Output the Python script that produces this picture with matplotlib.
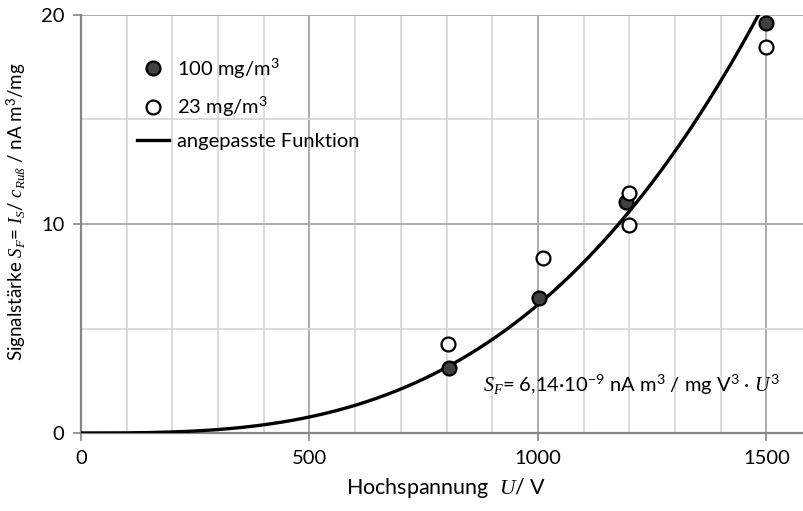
import numpy as np
import matplotlib
matplotlib.use("Agg")
import matplotlib.pyplot as plt
from matplotlib.ticker import MultipleLocator
from matplotlib.lines import Line2D

plt.rcParams['font.family'] = ['Lato', 'DejaVu Sans']
plt.rcParams['mathtext.fontset'] = 'custom'
plt.rcParams['mathtext.it'] = 'Liberation Serif:italic'
plt.rcParams['mathtext.rm'] = 'Lato'

# data
u_100 = [805, 1003, 1192, 1500]
s_100 = [3.10, 6.44, 11.04, 19.6]
u_23 = [802, 1012, 1200, 1200, 1500]
s_23 = [4.24, 8.36, 11.47, 9.94, 18.48]
fit_coef = 6.14e-9  # nA m³ / mg V³
fit_u = np.linspace(0, 1600, 400)

fig = plt.figure(figsize=(8.04, 5.11), dpi=100)
ax = fig.add_axes([81/804, 78/511, (812.2-81)/804, (433-15)/511])

ax.plot(fit_u, fit_coef*fit_u**3, color='black', lw=2.4, zorder=3)
ax.plot(u_100, s_100, 'o', ms=10, mfc='#404040', mec='black', mew=1.6, zorder=4)
ax.plot(u_23, s_23, 'o', ms=10, mfc='white', mec='black', mew=1.6, zorder=4)

ax.set_xlim(0, 1600)
ax.set_ylim(0, 20)
ax.xaxis.set_major_locator(MultipleLocator(500))
ax.xaxis.set_minor_locator(MultipleLocator(100))
ax.yaxis.set_major_locator(MultipleLocator(10))
ax.yaxis.set_minor_locator(MultipleLocator(5))
ax.grid(which='major', color='#a6a6a6', lw=1.3)
ax.grid(which='minor', color='#d9d9d9', lw=1.3)
ax.set_axisbelow(True)
for s in ['top', 'right']:
    ax.spines[s].set_visible(False)
for s in ['left', 'bottom']:
    ax.spines[s].set_color('#868686')
    ax.spines[s].set_linewidth(1.6)
ax.tick_params(which='major', direction='out', length=6, width=1.2, color='#868686',
               labelsize=14.5, pad=6)
ax.tick_params(which='minor', length=0)

ax.set_xlabel('Hochspannung  $U$/ V', fontsize=15.5, labelpad=7)
ax.set_ylabel('Signalstärke $S_F$= $I_S$/ $c_{Ruß}$ / nA m$^3$/mg', fontsize=13.5,
              labelpad=2)
ax.yaxis.set_label_coords(-0.072, 0.53)

ax.text(1530, 2.3, r'$S_F$= 6,14·10$^{-9}$ nA m$^3$ / mg V$^3$ · $U^3$', fontsize=14.5,
        ha='right', va='center')

handles = [
    Line2D([], [], ls='none', marker='o', ms=10, mfc='#404040', mec='black', mew=1.6),
    Line2D([], [], ls='none', marker='o', ms=10, mfc='white', mec='black', mew=1.6),
    Line2D([], [], color='black', lw=2.4),
]
ax.legend(handles, ['100 mg/m$^3$', '23 mg/m$^3$', 'angepasste Funktion'],
          loc='upper left', bbox_to_anchor=(0.065, 0.92), frameon=False,
          fontsize=14.5, handlelength=1.6, handletextpad=0.4, labelspacing=0.7,
          borderaxespad=0)

fig.savefig('out.png', dpi=100)
